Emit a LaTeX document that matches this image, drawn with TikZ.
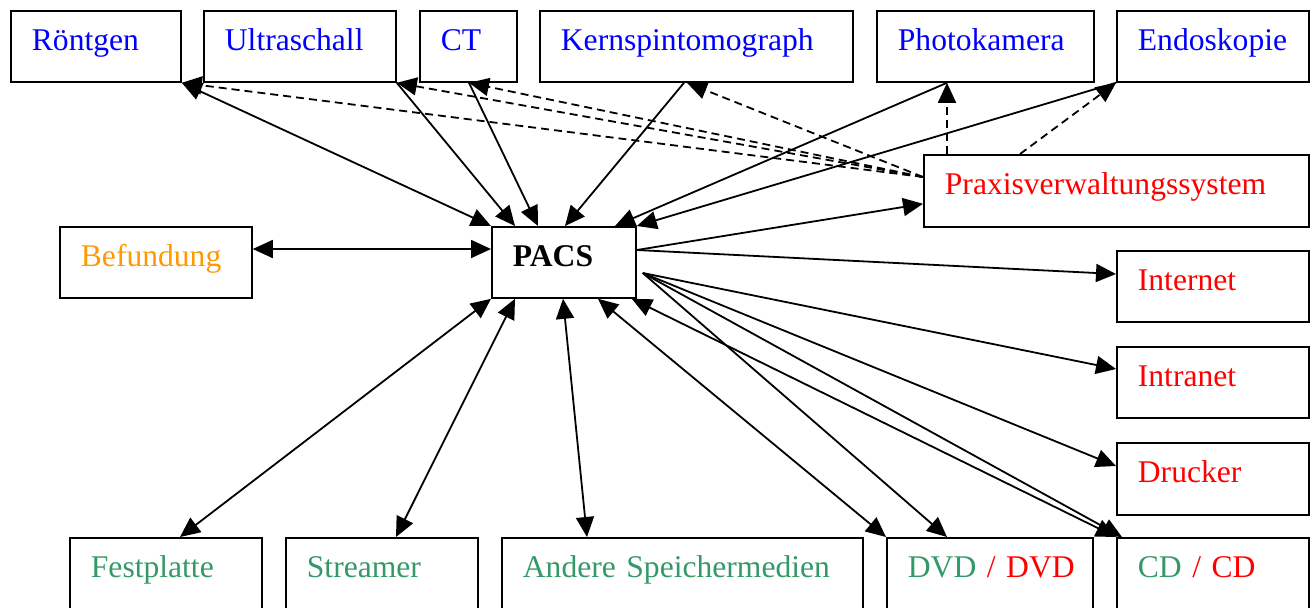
\documentclass[tikz,border=0pt]{standalone}
\usepackage{fontspec}
\setmainfont{Liberation Serif}
\usetikzlibrary{arrows.meta,calc}
\definecolor{cblue}{RGB}{0,0,255}
\definecolor{cred}{RGB}{255,0,0}
\definecolor{corange}{RGB}{255,153,0}
\definecolor{cgreen}{RGB}{51,153,102}
\begin{document}
\begin{tikzpicture}[x=0.5pt,y=-0.5pt,
  box/.style={draw, line width=0.9pt, anchor=north west, inner xsep=10.5pt, inner ysep=0pt,
    text height=20pt, text depth=15.5pt, align=left, font=\fontsize{15.8}{18}\selectfont},
  con/.style={line width=0.9pt},
  tip/.style={-{Triangle[length=10pt,width=9pt]}},
  tips/.style={{Triangle[length=10pt,width=9pt]}-{Triangle[length=10pt,width=9pt]}},
  dsh/.style={dash pattern=on 4pt off 2.5pt}]
\useasboundingbox (0,0) rectangle (1312,607);
\clip (0,0) rectangle (1312,607);
% top row
\node[box, text width=64pt]    (rontgen) at (10,10)   {\mbox{\color{cblue}Röntgen}};
\node[box, text width=75pt]    (ultra)   at (203,10)  {\mbox{\color{cblue}Ultraschall}};
\node[box, text width=27.5pt]  (ct)      at (419,10)  {\mbox{\color{cblue}CT}};
\node[box, text width=135.5pt] (kern)    at (539,10)  {\mbox{\color{cblue}Kernspintomograph}};
\node[box, text width=87.5pt]  (photo)   at (876,10)  {\mbox{\color{cblue}Photokamera}};
\node[box, text width=75pt]    (endo)    at (1116,10) {\mbox{\color{cblue}Endoskopie}};
% middle
\node[box, text width=171.5pt, text depth=16pt] (praxis) at (923,154) {\mbox{\color{cred}Praxisverwaltungssystem}};
\node[box, text width=51pt]    (pacs)    at (491,226) {\mbox{\bfseries PACS}};
\node[box, text width=75pt]    (befund)  at (59,226)  {\mbox{\color{corange}Befundung}};
\node[box, text width=75pt]    (internet) at (1116,250) {\mbox{\color{cred}Internet}};
\node[box, text width=75pt]    (intranet) at (1116,346) {\mbox{\color{cred}Intranet}};
\node[box, text width=75pt, text depth=16pt] (drucker) at (1116,442) {\mbox{\color{cred}Drucker}};
% bottom row
\node[box, text width=75pt,    text depth=25pt] (festplatte) at (69,537)  {\mbox{\color{cgreen}Festplatte}};
\node[box, text width=75pt,    text depth=25pt] (streamer)   at (285,537) {\mbox{\color{cgreen}Streamer}};
\node[box, text width=159.5pt, text depth=25pt] (andere)     at (501,537) {\mbox{\color{cgreen}Andere Speichermedien}};
\node[box, text width=82pt,    text depth=25pt] (dvd)        at (886,537) {\mbox{\color{cgreen}DVD \color{cred}/ DVD}};
\node[box, text width=75pt,    text depth=25pt] (cd)         at (1116,537) {\mbox{\color{cgreen}CD \color{cred}/ CD}};
% connectors to the top row
\draw[con,tips] (rontgen.south east) -- (pacs.north west);
\draw[con,tip] (ultra.south east) -- ($(pacs.north west)+(24,0)$);
\draw[con,tip] ($(ct.south west)+(50,0)$) -- ($(pacs.north west)+(47,0)$);
\draw[con,tip] ($(kern.south west)+(145,0)$) -- ($(pacs.north west)+(74,0)$);
\draw[con,tip] ($(photo.south west)+(71,0)$) -- ($(pacs.north west)+(124,0)$);
\draw[con,tip] (endo.south west) -- (pacs.north east);
\draw[con,tip] ($(pacs.north east)+(0,24)$) -- ($(praxis.south west)+(0,-24)$);
% dashed from Praxisverwaltungssystem
\coordinate (pv) at ($(praxis.north west)+(0,23)$);
\draw[con,dsh,tip] (pv) -- (rontgen.south east);
\draw[con,dsh,tip] (pv) -- (ultra.south east);
\draw[con,dsh,tip] (pv) -- ($(ct.south west)+(50,0)$);
\draw[con,dsh,tip] (pv) -- ($(kern.south west)+(148,0)$);
\draw[con,dsh,tip] ($(praxis.north west)+(24,0)$) -- ($(photo.south west)+(71,0)$);
\draw[con,dsh,tip] ($(praxis.north west)+(97,0)$) -- (endo.south west);
% Befundung
\draw[con,tips] ($(befund.north east)+(0,23)$) -- ($(pacs.north west)+(0,23)$);
% right side
\draw[con,tip] ($(pacs.north east)+(0,24)$) -- ($(internet.north west)+(0,24)$);
\coordinate (pr) at ($(pacs.north east)+(6,47)$);
\draw[con,tip] (pr) -- ($(intranet.north west)+(0,23)$);
\draw[con,tip] (pr) -- ($(drucker.north west)+(0,24)$);
\draw[con,tip] (pr) -- ($(dvd.north west)+(61,0)$);
\draw[con,tip] (pr) -- ($(cd.north west)+(6,0)$);
\draw[con,tips] ($(pacs.south west)+(107,0)$) -- (dvd.north west);
\draw[con,tips] ($(pacs.south east)+(-5,0)$) -- (cd.north west);
% bottom left
\draw[con,tips] ($(festplatte.north west)+(111,0)$) -- (pacs.south west);
\draw[con,tips] ($(streamer.north west)+(111,0)$) -- ($(pacs.south west)+(24,0)$);
\draw[con,tips] ($(andere.north west)+(86,0)$) -- ($(pacs.south west)+(72,0)$);
\end{tikzpicture}
\end{document}
